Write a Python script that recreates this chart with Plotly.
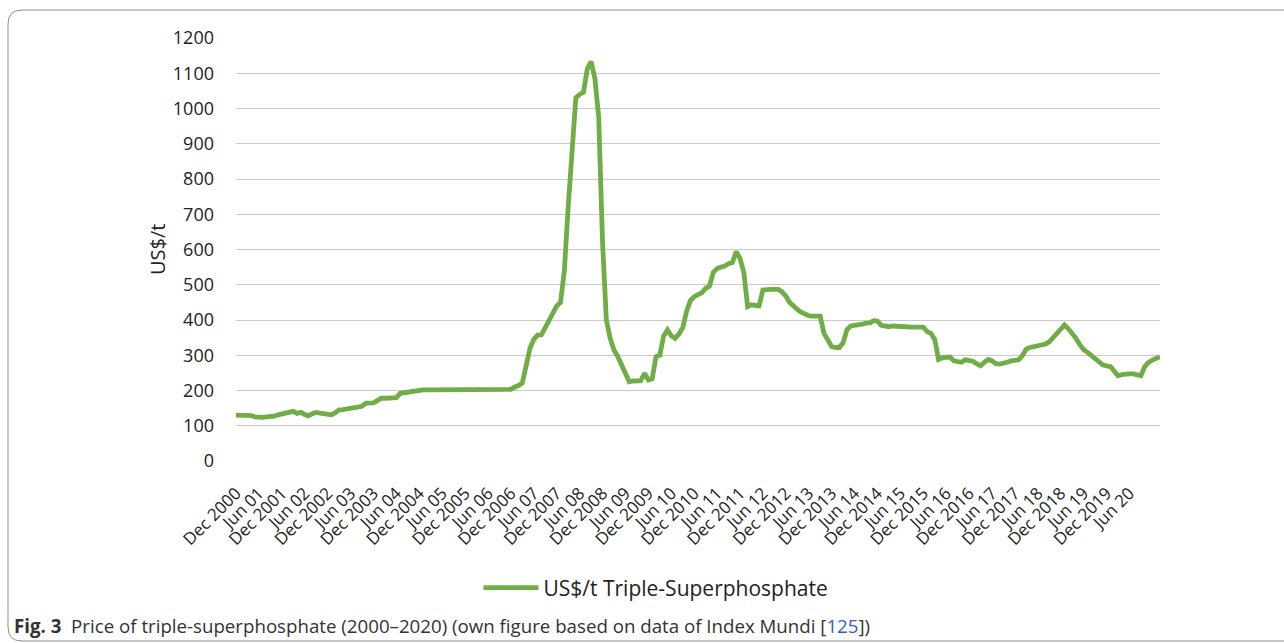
import plotly.graph_objects as go

# Monthly prices, Dec 2000 onward (US$/t)
prices = [
    130, 130, 130, 130, 129, 125, 123, 124, 125, 125, 127, 131, 133, 135, 140, 141,
    135, 138, 132, 128, 134, 138, 136, 134, 132, 131, 137, 145, 146, 148, 150, 151,
    152, 155, 164, 164, 165, 171, 178, 178, 178, 178, 180, 192, 194, 194, 195, 200,
    202, 202, 202, 202, 202, 202, 201, 201, 201, 201, 201, 201, 200, 200, 200, 200,
    200, 200, 200, 201, 201, 201, 202, 202, 203, 210, 214, 222, 265, 320, 345, 357,
    358, 380, 398, 420, 440, 450, 540, 720, 880, 1030, 1040, 1046, 1112, 1133, 1085, 975,
    620, 400, 348, 315, 296, 272, 250, 225, 227, 228, 228, 249, 230, 233, 296, 300,
    355, 372, 355, 348, 360, 378, 424, 455, 466, 472, 477, 490, 496, 535, 546, 550,
    553, 560, 563, 594, 575, 535, 438, 443, 443, 440, 485, 487, 487, 487, 487, 480,
    468, 450, 438, 430, 422, 416, 412, 411, 411, 411, 362, 340, 325, 322, 322, 335,
    372, 383, 384, 386, 388, 391, 392, 398, 397, 385, 382, 381, 383, 382, 380, 380,
    380, 380, 380, 380, 380, 367, 362, 345, 288, 293, 295, 295, 284, 282, 280, 287,
    286, 283, 276, 270, 280, 288, 284, 276, 275, 276, 280, 284, 285, 287, 300, 318,
    322, 324, 325, 327, 332, 338, 350, 362, 378, 386, 375, 362, 348, 330, 316, 308,
    300, 290, 280, 273, 270, 268, 255, 242, 245, 247, 247, 247, 244, 242, 268, 280,
    286, 292, 296,
]
month_index = list(range(len(prices)))

tick_labels = [
    "Dec 2000", "Jun 01", "Dec 2001", "Jun 02", "Dec 2002", "Jun 03", "Dec 2003", "Jun 04",
    "Dec 2004", "Jun 05", "Dec 2005", "Jun 06", "Dec 2006", "Jun 07", "Dec 2007", "Jun 08",
    "Dec 2008", "Jun 09", "Dec 2009", "Jun 10", "Dec 2010", "Jun 11", "Dec 2011", "Jun 12",
    "Dec 2012", "Jun 13", "Dec 2013", "Jun 14", "Dec 2014", "Jun 15", "Dec 2015", "Jun 16",
    "Dec 2016", "Jun 17", "Dec 2017", "Jun 18", "Dec 2018", "Jun 19", "Dec 2019", "Jun 20",
]
tick_positions = [6 * i for i in range(len(tick_labels))]

series_name = "US$/t Triple-Superphosphate"
caption_bold = "Fig. 3"
caption_text = "Price of triple-superphosphate (2000–2020) (own figure based on data of Index Mundi ["
caption_ref = "125"

FONT = "Open Sans, Noto Sans, sans-serif"
W, H = 1284, 643
L, R, T, B = 236, 124, 38, 182
PW, PH = W - L - R, H - T - B


def fx(px):
    return (px - L) / PW


def fy(py):
    return (H - B - py) / PH


fig = go.Figure()
fig.add_trace(go.Scatter(
    x=month_index, y=prices, mode="lines", name=series_name,
    line=dict(color="#70AD47", width=4.8),
))

border = (f"M {fx(1300)},{fy(10)} L {fx(22)},{fy(10)} Q {fx(8)},{fy(10)} {fx(8)},{fy(24)} "
          f"L {fx(8)},{fy(627)} Q {fx(8)},{fy(641)} {fx(22)},{fy(641)} L {fx(1300)},{fy(641)}")

fig.update_layout(
    width=W, height=H,
    margin=dict(l=L, r=R, t=T, b=B),
    paper_bgcolor="white", plot_bgcolor="white",
    font=dict(family=FONT, color="#222222"),
    showlegend=True,
    legend=dict(orientation="h", x=fx(656), xanchor="center", y=fy(588), yanchor="middle",
                font=dict(size=21, color="#222222"), itemwidth=55),
    xaxis=dict(range=[0, len(prices) - 1], tickmode="array", tickvals=tick_positions,
               ticktext=tick_labels, tickangle=-45, tickfont=dict(size=17, color="#222222"),
               showgrid=False, zeroline=False, showline=False, ticks="", ticklabelstandoff=18),
    yaxis=dict(range=[0, 1200], dtick=100, tickfont=dict(size=18, color="#222222"),
               showgrid=True, gridcolor="#CACACA", gridwidth=1.3, zeroline=False,
               showline=False, ticks="", ticklabelstandoff=21),
    shapes=[dict(type="path", xref="paper", yref="paper", path=border,
                 line=dict(color="#8C8C8C", width=1))],
    annotations=[
        dict(text="US$/t", xref="paper", yref="paper", x=fx(157), y=fy(250), textangle=-90,
             showarrow=False, font=dict(size=20, color="#222222"), xanchor="center", yanchor="middle"),
        dict(text=f"<b>{caption_bold}</b>  {caption_text}<span style='color:#2F5BD8'>{caption_ref}</span>])",
             xref="paper", yref="paper", x=fx(12), y=fy(625), xanchor="left", yanchor="middle",
             showarrow=False, font=dict(size=18.7, color="#333333")),
    ],
)

fig.write_html("out.html", config={"displayModeBar": False},
               post_script="document.body.style.margin='0';document.body.style.overflow='hidden';")
